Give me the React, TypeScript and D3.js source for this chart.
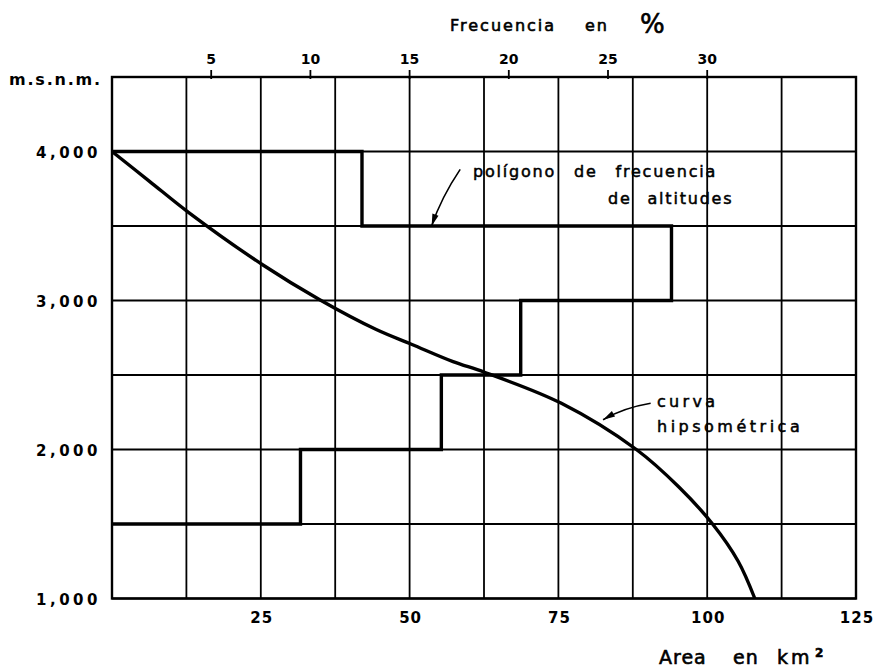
import * as d3 from "d3";
import React from "react";

// axis ticks
const areaTicks = [25, 50, 75, 100, 125];
const freqTicks = [5, 10, 15, 20, 25, 30];
const altTicks = [1000, 2000, 3000, 4000];

// frequency polygon (altitude bands, % of area)
const bandLow = [1500, 2000, 2500, 3000, 3500];
const bandHigh = [2000, 2500, 3000, 3500, 4000];
const bandFreq = [9.5, 16.6, 20.6, 28.2, 12.6];

// hypsometric curve (area above altitude, km2)
const hypsoArea = [0, 6.3, 12.9, 25.3, 34.9, 44.4, 50.4, 57.3, 62.6, 75.5, 88.1, 95.2, 100.9, 105.2, 108];
const hypsoAlt = [4000, 3800, 3590, 3240, 3005, 2805, 2705, 2590, 2518, 2310, 2000, 1750, 1500, 1250, 1000];

const W = 874;
const H = 667;
const FONT = "DejaVu Sans";

const App = () => {
  const x = d3.scaleLinear().domain([0, 125]).range([112, 856]);
  const xf = d3.scaleLinear().domain([0, 37.5]).range([112, 856]);
  const y = d3.scaleLinear().domain([1000, 4500]).range([598.5, 77]);

  const vGrid = d3.range(0, 125.01, 12.5);
  const hGrid = d3.range(1000, 4500.01, 500);

  // step outline of the polygon
  const stepPts: [number, number][] = [[0, bandLow[0]]];
  bandFreq.forEach((f, i) => {
    stepPts.push([f, bandLow[i]]);
    stepPts.push([f, bandHigh[i]]);
  });
  stepPts.push([0, bandHigh[bandHigh.length - 1]]);
  const stepPath = d3
    .line<[number, number]>()
    .x((d) => xf(d[0]))
    .y((d) => y(d[1]))(stepPts);

  const curvePath = d3
    .line<number>()
    .x((d) => x(d))
    .y((_, i) => y(hypsoAlt[i]))
    .curve(d3.curveCatmullRom.alpha(0.5))(hypsoArea);

  // annotation arrows (data units)
  const arrow1 = { x0: x(58.5), y0: y(3880), cx: x(55.3), cy: y(3690), x1: x(53.7), y1: y(3500) };
  const arrow2 = { x0: x(90.5), y0: y(2310), cx: x(86), cy: y(2280), x1: x(82.5), y1: y(2200) };

  const head = (a, len = 12, w = 3.2) => {
    const ang = Math.atan2(a.y1 - a.cy, a.x1 - a.cx);
    const bx = a.x1 - len * Math.cos(ang);
    const by = a.y1 - len * Math.sin(ang);
    const px = -Math.sin(ang) * w;
    const py = Math.cos(ang) * w;
    return `M${a.x1},${a.y1}L${bx + px},${by + py}L${bx - px},${by - py}Z`;
  };

  const top = y(4500);
  const bottom = y(1000);

  return (
    <svg width={W} height={H} style={{ position: "absolute", left: 0, top: 0, background: "#fff" }}>
      {/* grid */}
      {vGrid.map((v) => (
        <line key={"v" + v} x1={x(v)} x2={x(v)} y1={top} y2={bottom} stroke="#000" strokeWidth={1.8} />
      ))}
      {hGrid.map((v) => (
        <line key={"h" + v} x1={x(0)} x2={x(125)} y1={y(v)} y2={y(v)} stroke="#000" strokeWidth={1.8} />
      ))}
      <rect x={x(0)} y={top} width={x(125) - x(0)} height={bottom - top} fill="none" stroke="#000" strokeWidth={2.4} />

      {/* top ticks */}
      {freqTicks.map((t) => (
        <g key={"f" + t}>
          <line x1={xf(t)} x2={xf(t)} y1={top - 7} y2={top + 2} stroke="#000" strokeWidth={1.8} />
          <text x={xf(t)} y={64} textAnchor="middle" fontFamily={FONT} fontWeight="bold" fontSize={14}>
            {t}
          </text>
        </g>
      ))}

      {/* bottom labels */}
      {areaTicks.map((t) => (
        <text key={"a" + t} x={x(t) + 1} y={623} textAnchor="middle" fontFamily={FONT} fontWeight="bold" fontSize={15} letterSpacing={1}>
          {t}
        </text>
      ))}

      {/* left labels */}
      {altTicks.map((t) => (
        <text key={"y" + t} x={101} y={y(t) + 6} textAnchor="end" fontFamily={FONT} fontWeight="bold" fontSize={15} letterSpacing={3.5}>
          {d3.format(",")(t)}
        </text>
      ))}
      <text x={9} y={85} fontFamily={FONT} fontWeight="bold" fontSize={16} letterSpacing={1.8}>
        m.s.n.m.
      </text>

      {/* data */}
      <path d={stepPath || undefined} fill="none" stroke="#000" strokeWidth={3.4} strokeLinejoin="miter" />
      <path d={curvePath || undefined} fill="none" stroke="#000" strokeWidth={3.4} />

      {/* annotations */}
      <path d={`M${arrow1.x0},${arrow1.y0}Q${arrow1.cx},${arrow1.cy} ${arrow1.x1},${arrow1.y1}`} fill="none" stroke="#000" strokeWidth={1.6} />
      <path d={head(arrow1)} fill="#000" />
      <path d={`M${arrow2.x0},${arrow2.y0}Q${arrow2.cx},${arrow2.cy} ${arrow2.x1},${arrow2.y1}`} fill="none" stroke="#000" strokeWidth={1.6} />
      <path d={head(arrow2)} fill="#000" />

      <g fontFamily={FONT} fontSize={16} fill="#000" stroke="#000" strokeWidth={0.5}>
        <text x={473} y={177} letterSpacing={1.8} wordSpacing={11}>
          polígono de frecuencia
        </text>
        <text x={608} y={204} letterSpacing={1.8} wordSpacing={9}>
          de altitudes
        </text>
        <text x={657} y={407} letterSpacing={3.3}>
          curva
        </text>
        <text x={657} y={432} letterSpacing={3.5}>
          hipsométrica
        </text>
      </g>

      {/* axis titles */}
      <g fontFamily={FONT} fill="#000" stroke="#000" strokeWidth={0.6}>
        <text x={450} y={31} fontSize={16} letterSpacing={2}>Frecuencia</text>
        <text x={585} y={31} fontSize={16} letterSpacing={2}>en</text>
        <text x={640} y={33} fontSize={26}>%</text>
        <text x={659} y={664} fontSize={19} letterSpacing={1}>Area</text>
        <text x={733} y={664} fontSize={19} letterSpacing={1}>en</text>
        <text x={777} y={664} fontSize={19} letterSpacing={3}>km</text>
        <text x={815} y={657} fontSize={12} fontWeight="bold">2</text>
      </g>
    </svg>
  );
};

export default App;
